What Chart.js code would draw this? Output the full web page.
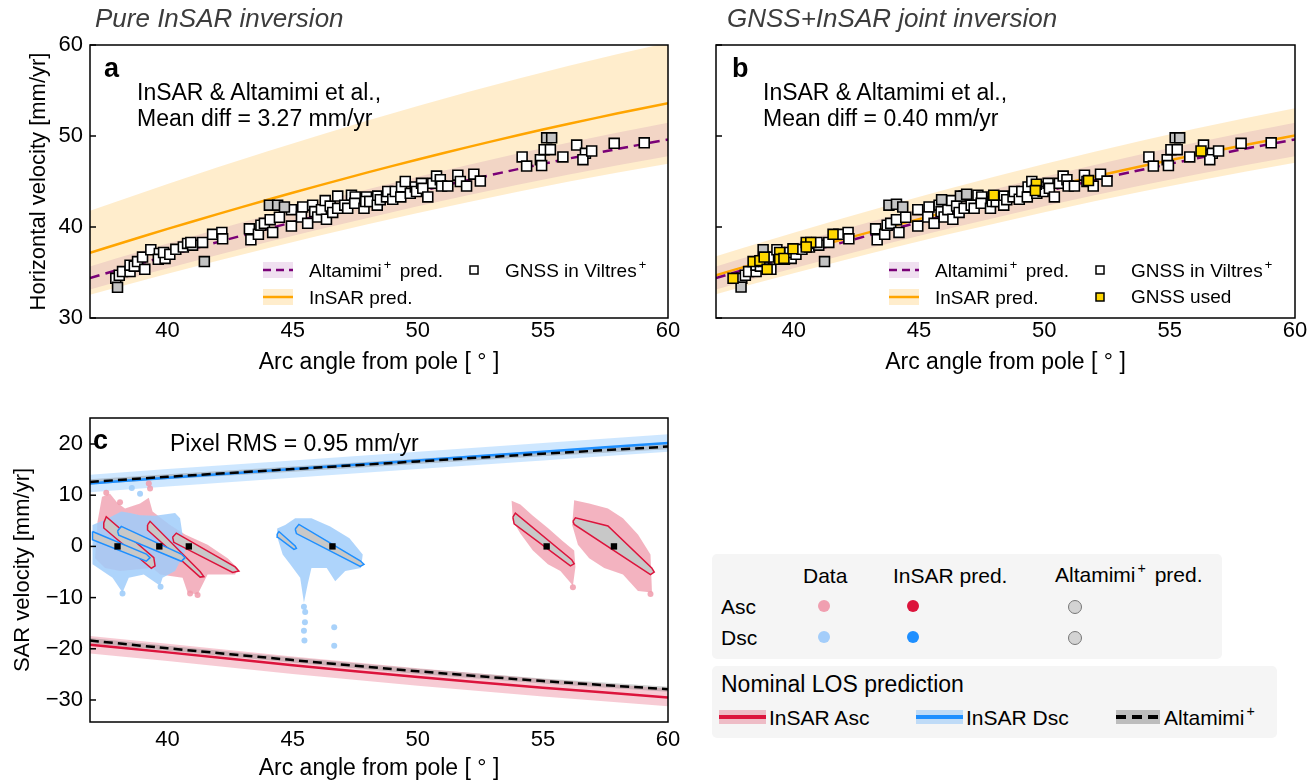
<!DOCTYPE html>
<html><head><meta charset="utf-8">
<script src="https://cdn.jsdelivr.net/npm/chart.js@4.4.0/dist/chart.umd.min.js"></script>
<style>
body{margin:0;background:#fff;width:1315px;height:782px;overflow:hidden;position:relative;font-family:"Liberation Sans",Arial,Helvetica,sans-serif;color:#000}
canvas{position:absolute}
.t{position:absolute;white-space:nowrap;line-height:1;transform:translateY(-50%)}
sup{font-size:0.68em;vertical-align:0.6em;line-height:0;margin-left:2px;margin-right:3px}
.box{position:absolute;background:#f5f5f5;border-radius:5px}
.dot{position:absolute;width:12px;height:12px;border-radius:50%;transform:translate(-50%,-50%)}
.sw{position:absolute}
</style></head><body>
<canvas id="ca" width="690" height="390" style="left:0;top:0"></canvas>
<canvas id="cb" width="625" height="390" style="left:690px;top:0"></canvas>
<canvas id="cc" width="690" height="392" style="left:0;top:390px"></canvas>

<div class="t" style="left:95px;top:18px;font-size:26px;font-style:italic;color:#3c3c3c">Pure InSAR inversion</div>
<div class="t" style="left:727px;top:18px;font-size:26px;font-style:italic;color:#3c3c3c">GNSS+InSAR joint inversion</div>

<div class="t" style="left:104px;top:68px;font-size:27px;font-weight:bold">a</div>
<div class="t" style="left:137px;top:92px;font-size:23px">InSAR &amp; Altamimi et al.,</div>
<div class="t" style="left:137px;top:118px;font-size:23px">Mean diff = 3.27 mm/yr</div>
<div class="t" style="left:309px;top:270px;font-size:19px">Altamimi<sup>+</sup> pred.</div>
<div class="t" style="left:309px;top:297px;font-size:19px">InSAR pred.</div>
<div class="t" style="left:505px;top:270px;font-size:19px">GNSS in Viltres<sup>+</sup></div>

<div class="t" style="left:732px;top:68px;font-size:27px;font-weight:bold">b</div>
<div class="t" style="left:763px;top:92px;font-size:23px">InSAR &amp; Altamimi et al.,</div>
<div class="t" style="left:763px;top:118px;font-size:23px">Mean diff = 0.40 mm/yr</div>
<div class="t" style="left:935px;top:270px;font-size:19px">Altamimi<sup>+</sup> pred.</div>
<div class="t" style="left:935px;top:297px;font-size:19px">InSAR pred.</div>
<div class="t" style="left:1131px;top:270px;font-size:19px">GNSS in Viltres<sup>+</sup></div>
<div class="t" style="left:1131px;top:296px;font-size:19px">GNSS used</div>

<div class="t" style="left:93px;top:440px;font-size:27px;font-weight:bold">c</div>
<div class="t" style="left:170px;top:443px;font-size:23px">Pixel RMS = 0.95 mm/yr</div>

<div class="box" style="left:712px;top:554px;width:510px;height:105px"></div>
<div class="t" style="left:803px;top:575px;font-size:21px">Data</div>
<div class="t" style="left:893px;top:575px;font-size:21px">InSAR pred.</div>
<div class="t" style="left:1055px;top:574px;font-size:21px">Altamimi<sup>+</sup> pred.</div>
<div class="t" style="left:721px;top:606px;font-size:21px">Asc</div>
<div class="t" style="left:721px;top:637px;font-size:21px">Dsc</div>
<div class="dot" style="left:824px;top:606px;background:#f09fb0"></div>
<div class="dot" style="left:913px;top:606px;background:#dc143c"></div>
<div class="dot" style="left:1075px;top:607px;background:#d3d3d3;border:1px solid #777"></div>
<div class="dot" style="left:824px;top:637px;background:#a3cdfa"></div>
<div class="dot" style="left:913px;top:637px;background:#1e8fff"></div>
<div class="dot" style="left:1075px;top:638px;background:#d3d3d3;border:1px solid #777"></div>

<div class="box" style="left:712px;top:666px;width:565px;height:72px"></div>
<div class="t" style="left:721px;top:684px;font-size:23px">Nominal LOS prediction</div>
<div class="sw" style="left:719px;top:710px;width:47px;height:14px;background:rgba(220,20,60,0.25)"></div>
<div class="sw" style="left:719px;top:715px;width:47px;height:4px;background:#dc143c"></div>
<div class="t" style="left:769px;top:717px;font-size:21px">InSAR Asc</div>
<div class="sw" style="left:916px;top:710px;width:47px;height:14px;background:rgba(30,144,255,0.25)"></div>
<div class="sw" style="left:916px;top:715px;width:47px;height:4px;background:#1e8fff"></div>
<div class="t" style="left:966px;top:717px;font-size:21px">InSAR Dsc</div>
<div class="sw" style="left:1116px;top:710px;width:44px;height:14px;background:#bdbdbd"></div>
<div class="sw" style="left:1116px;top:715px;width:44px;height:4px;background:repeating-linear-gradient(90deg,#000 0 10px,transparent 10px 16px)"></div>
<div class="t" style="left:1164px;top:717px;font-size:21px">Altamimi<sup>+</sup></div>

<script>
// ---------- data: panels a & b (horizontal velocity, mm/yr) ----------
const angleGrid      = [36.9, 38, 40, 42, 44, 46, 48, 50, 52, 54, 56, 58, 60];
const altamimiPred   = [34.40, 35.28, 36.83, 38.34, 39.81, 41.22, 42.58, 43.89, 45.15, 46.36, 47.50, 48.59, 49.62];
const altamimiHi     = [35.67, 36.59, 38.19, 39.76, 41.28, 42.75, 44.16, 45.51, 46.82, 48.08, 49.26, 50.39, 51.46];
const altamimiLo     = [33.13, 33.98, 35.47, 36.92, 38.34, 39.69, 41.00, 42.27, 43.48, 44.64, 45.74, 46.79, 47.78];
const insarPredA     = [37.17, 38.11, 39.79, 41.42, 43.00, 44.52, 46.00, 47.42, 48.78, 50.08, 51.32, 52.49, 53.61];
const insarHiA       = [41.78, 42.84, 44.72, 46.56, 48.33, 50.04, 51.70, 53.30, 54.83, 56.29, 57.68, 59.00, 60.26];
const insarLoA       = [32.56, 33.38, 34.86, 36.28, 37.67, 39.00, 40.30, 41.54, 42.73, 43.87, 44.96, 45.98, 46.96];
const insarPredB     = [34.70, 35.59, 37.15, 38.67, 40.15, 41.58, 42.95, 44.27, 45.55, 46.76, 47.92, 49.01, 50.06];
const insarHiB       = [36.78, 37.73, 39.38, 40.99, 42.56, 44.07, 45.53, 46.93, 48.28, 49.57, 50.80, 51.95, 53.06];
const insarLoB       = [32.62, 33.45, 34.92, 36.35, 37.74, 39.09, 40.37, 41.61, 42.82, 43.95, 45.04, 46.07, 47.06];

const gnssViltres = [[37.93,34.36],[38.07,34.7],[38.2,35.1],[38.5,35.1],[38.5,35.8],[38.67,35.7],[38.8,36.2],[39.09,35.35],[39.0,36.7],[39.33,37.5],[39.67,37.1],[39.63,36.45],[39.9,36.55],[39.84,37.2],[40.09,37.0],[40.33,37.55],[40.63,37.8],[40.8,38.2],[41.0,38.0],[40.93,38.3],[41.4,38.3],[41.8,39.2],[42.17,39.4],[42.2,38.7],[43.27,39.8],[43.33,38.6],[43.63,39.2],[43.73,40.2],[43.87,40.4],[44.1,40.8],[44.2,39.4],[44.47,41.07],[44.95,41.9],[44.95,40.1],[45.4,42.2],[45.35,41.1],[45.6,40.4],[45.8,42.4],[45.88,41.7],[46.0,41.1],[46.15,41.9],[46.35,40.85],[46.3,42.9],[46.5,42.3],[46.6,41.6],[46.8,43.4],[46.8,42.05],[47.08,42.4],[47.2,42.05],[47.35,43.5],[47.5,43.3],[47.48,42.6],[47.85,42.05],[47.95,43.3],[47.92,42.8],[48.08,42.8],[48.4,43.4],[48.38,42.4],[48.5,43.0],[48.75,43.3],[48.8,43.9],[49.0,43.05],[49.1,43.9],[49.32,43.3],[49.35,44.4],[49.5,45.0],[49.7,43.7],[49.9,44.4],[49.95,43.9],[50.15,44.8],[50.2,44.25],[50.4,43.3],[50.6,44.8],[50.75,45.6],[50.9,45.2],[50.95,44.5],[51.2,44.5],[51.6,45.7],[51.7,45.0],[51.95,44.5],[52.24,45.8],[52.5,45.05],[54.17,47.7],[54.35,46.7],[54.9,47.4],[54.95,46.75],[55.05,48.5],[55.3,48.5],[55.8,47.7],[56.35,49.0],[56.7,48.1],[56.6,47.4],[56.95,48.35],[57.85,49.2],[59.05,49.25]];
const gnssExcludedA = [[38.0,33.37],[41.47,36.2],[44.07,42.4],[44.4,42.4],[44.67,42.2],[55.15,49.8],[55.35,49.8]];
const gnssExcludedB = [[37.9,33.4],[38.78,37.5],[41.23,36.2],[43.8,42.4],[44.1,42.5],[44.35,42.2],[45.9,43.0],[46.65,43.4],[46.9,43.6],[55.22,49.8],[55.4,49.8]];
const gnssUsedB = [[37.58,34.36],[38.38,36.2],[38.65,36.3],[38.82,36.7],[38.94,35.35],[39.44,37.2],[39.44,36.45],[39.61,36.55],[39.97,37.6],[40.5,38.3],[40.68,38.3],[40.5,37.8],[41.57,39.2],[47.98,43.5],[49.68,44.7],[49.64,44.0],[51.76,45.1],[56.25,48.35]];

// ---------- data: panel c (LOS velocity, mm/yr) ----------
const losGrid   = [36.9, 40, 45, 50, 55, 60];
const insarDsc  = [12.3, 13.4, 15.1, 16.8, 18.5, 20.2];
const insarDscHi= [14.0, 15.1, 16.8, 18.5, 20.2, 21.9];
const insarDscLo= [10.6, 11.7, 13.4, 15.1, 16.8, 18.5];
const altDsc    = [12.6, 13.6, 15.1, 16.6, 18.1, 19.5];
const altDscHi  = [13.1, 14.1, 15.6, 17.1, 18.6, 20.0];
const altDscLo  = [12.1, 13.1, 14.6, 16.1, 17.6, 19.0];
const insarAsc  = [-19.2, -20.7, -23.2, -25.5, -27.6, -29.5];
const insarAscHi= [-17.5, -19.0, -21.5, -23.8, -25.9, -27.8];
const insarAscLo= [-20.9, -22.4, -24.9, -27.2, -29.3, -31.2];
const altAsc    = [-18.4, -19.9, -22.2, -24.4, -26.3, -27.9];
const altAscHi  = [-17.9, -19.4, -21.7, -23.9, -25.8, -27.4];
const altAscLo  = [-18.9, -20.4, -22.7, -24.9, -26.8, -28.4];

// observed pixel clouds (outlines)
const ascCloud1 = [[37.38,9.7],[37.7,10.3],[38.0,8.5],[38.3,7.4],[38.9,8.4],[39.25,9.5],[39.4,6.8],[40.1,4.2],[40.7,2.3],[41.6,0.3],[42.4,-2.3],[42.8,-4.2],[42.7,-5.5],[41.6,-5.5],[41.2,-9.4],[40.8,-9.0],[40.6,-6.1],[39.7,-5.5],[39.4,-4.2],[38.1,-4.8],[37.5,-4.2],[37.1,-2.3],[37.2,4.8]];
const ascCloud2 = [[53.75,8.9],[54.1,8.2],[54.6,6.0],[55.2,3.6],[55.8,1.0],[56.25,-0.8],[56.3,-4.0],[56.2,-7.7],[56.0,-6.5],[55.7,-4.8],[55.2,-3.5],[54.6,-0.8],[54.1,2.5],[53.8,5.0]];
const ascCloud3 = [[56.25,9.0],[56.85,8.4],[57.6,7.4],[58.2,5.5],[58.8,2.3],[59.3,-1.6],[59.36,-9.0],[58.8,-8.7],[58.2,-5.5],[57.45,-4.2],[56.85,-2.3],[56.4,0.3],[56.17,4.2]];
const dscCloud1 = [[37.0,4.2],[37.5,5.2],[38.15,6.8],[38.5,6.5],[38.9,6.1],[39.5,6.0],[40.3,6.5],[40.5,5.5],[40.7,-1.0],[40.3,-4.8],[39.8,-6.1],[39.7,-7.7],[39.05,-5.5],[38.45,-6.1],[38.2,-9.0],[37.8,-6.1],[37.0,-3.5]];
const dscCloud2 = [[44.38,3.5],[44.7,4.2],[45.1,5.5],[45.75,5.5],[46.5,3.9],[47.27,1.6],[47.8,-1.6],[47.73,-4.2],[47.1,-4.8],[46.7,-6.8],[46.36,-4.2],[45.75,-4.2],[45.6,-7.4],[45.45,-11.0],[45.3,-6.1],[44.9,-3.5],[44.6,-1.6],[44.4,1.6]];
const ascStray = [[39.3,11.3],[39.25,12.3],[38.1,8.6],[37.55,10.5],[41.2,-9.5],[56.2,-8.0],[59.3,-9.3],[40.9,-9.2]];
const dscStray = [[45.49,-14.8],[45.45,-16.5],[45.47,-18.4],[46.66,-15.8],[46.66,-19.4],[38.57,11.4],[38.9,10.3],[38.2,-9.2],[39.72,-7.9],[45.45,-11.8],[45.5,-12.8]];
// InSAR predicted LOS per track (outlines)
const ascPred = [
  [[37.45,4.6],[37.55,5.8],[39.45,-2.2],[39.5,-3.8],[39.35,-4.3],[37.45,3.6]],
  [[39.2,4.2],[39.3,4.9],[41.3,-4.9],[41.45,-5.9],[41.3,-6.0],[39.2,3.2]],
  [[40.2,1.8],[40.35,2.6],[42.7,-4.0],[42.85,-4.8],[42.6,-5.1],[40.25,0.8]],
  [[53.8,5.7],[53.9,6.5],[56.15,-2.6],[56.25,-3.4],[56.1,-3.8],[53.85,4.4]],
  [[56.2,4.9],[56.3,5.6],[57.6,4.0],[59.35,-4.2],[59.45,-5.0],[59.3,-5.5],[56.25,4.3]]
];
const dscPred = [
  [[37.0,2.9],[39.15,-1.5],[39.3,-2.2],[39.15,-2.9],[37.0,1.3]],
  [[38.0,3.0],[38.15,3.9],[40.55,-1.5],[40.7,-2.2],[40.55,-2.9],[38.05,2.2]],
  [[44.38,2.4],[44.45,2.9],[45.1,0.1],[45.15,-0.4],[45.05,-0.6],[44.4,1.8]],
  [[45.1,3.4],[45.25,4.3],[47.7,-2.8],[47.85,-3.5],[47.7,-3.9],[45.15,2.5]]
];
const refAngle = [38.0, 39.67, 40.85, 46.59, 55.15, 57.84];
const refVel   = [0, 0, 0, 0, 0, 0];

// ---------- tick labels ----------
const xTicks  = [40, 45, 50, 55, 60];
const yTicksH = [30, 40, 50, 60];
const yTicksC = [-30, -20, -10, 0, 10, 20];

// ---------- helpers ----------
const FONT = '"Liberation Sans", Arial, Helvetica, sans-serif';
Chart.defaults.font.family = FONT;
Chart.defaults.color = '#000';
const pts  = (xs, ys) => xs.map((x, i) => ({x, y: ys[i]}));
const pairs = arr => arr.map(([x, y]) => ({x, y}));
const poly = arr => pairs(arr.concat([arr[0]]));
const band = (xs, lo, hi) => { const p = xs.map((x, i) => ({x, y: hi[i]})); for (let i = xs.length - 1; i >= 0; i--) p.push({x: xs[i], y: lo[i]}); p.push(p[0]); return p; };
const lineDS = (data, color, w, dash, order) => ({data, showLine: true, borderColor: color, borderWidth: w, borderDash: dash || [], pointRadius: 0, fill: false, order, tension: 0.2});
const shapeDS = (data, fillC, order, stroke, sw) => ({data, showLine: true, fill: 'shape', backgroundColor: fillC, borderColor: stroke || 'rgba(0,0,0,0)', borderWidth: sw || 0.01, pointRadius: 0, order, tension: 0});
const markDS = (data, bg, order, r, style, bw) => ({data, showLine: false, pointStyle: style || 'rect', pointRadius: r, pointBackgroundColor: bg, backgroundColor: bg, pointBorderColor: '#000', borderColor: '#000', pointBorderWidth: bw === undefined ? 1.6 : bw, borderWidth: bw === undefined ? 1.6 : bw, order});

const framePlugin = {
  id: 'frame',
  afterDatasetsDraw(chart) {
    const {ctx, chartArea: a, scales} = chart;
    ctx.save();
    ctx.strokeStyle = '#000'; ctx.lineWidth = 1.5;
    ctx.strokeRect(a.left, a.top, a.right - a.left, a.bottom - a.top);
    const ys = scales.y;
    ys.ticks.forEach(t => { const p = ys.getPixelForValue(t.value); ctx.beginPath(); ctx.moveTo(a.left, p); ctx.lineTo(a.left + 6, p); ctx.stroke(); });
    ctx.restore();
  }
};
const legendSamples = (withUsed) => ({
  id: 'legendSamples',
  afterDraw(chart) {
    const {ctx, chartArea: a} = chart;
    const x0 = a.left + 173, x1 = a.left + 203;
    ctx.save();
    ctx.fillStyle = 'rgba(128,0,128,0.12)'; ctx.fillRect(x0, 262, x1 - x0, 16);
    ctx.strokeStyle = '#7a0177'; ctx.lineWidth = 2.5; ctx.setLineDash([8, 5]);
    ctx.beginPath(); ctx.moveTo(x0, 270); ctx.lineTo(x1, 270); ctx.stroke();
    ctx.setLineDash([]);
    ctx.fillStyle = 'rgba(255,165,0,0.2)'; ctx.fillRect(x0, 289, x1 - x0, 16);
    ctx.strokeStyle = '#ffa500'; ctx.lineWidth = 2.5;
    ctx.beginPath(); ctx.moveTo(x0, 297); ctx.lineTo(x1, 297); ctx.stroke();
    const sx = a.left + 384;
    ctx.lineWidth = 1.5; ctx.strokeStyle = '#000';
    ctx.fillStyle = '#fff'; ctx.fillRect(sx - 4, 266, 8, 8); ctx.strokeRect(sx - 4, 266, 8, 8);
    if (withUsed) { ctx.fillStyle = '#ffd700'; ctx.fillRect(sx - 4, 293, 8, 8); ctx.strokeRect(sx - 4, 293, 8, 8); }
    ctx.restore();
  }
});

const xScale = (h, tickPad, titlePad) => ({
  type: 'linear', min: 36.9, max: 60,
  afterBuildTicks: s => { s.ticks = xTicks.map(v => ({value: v})); },
  afterFit: s => { s.height = h; },
  grid: {display: false, drawTicks: false}, border: {display: false},
  ticks: {font: {size: 22}, color: '#000', padding: tickPad, maxRotation: 0},
  title: {display: true, text: 'Arc angle from pole [ ° ]', font: {size: 23}, color: '#000', padding: {top: 0, bottom: titlePad}}
});
const yScale = (min, max, ticks, w, title, titlePad, showLabels) => ({
  type: 'linear', min, max,
  afterBuildTicks: s => { s.ticks = ticks.map(v => ({value: v})); },
  afterFit: s => { s.width = w; },
  grid: {display: false, drawTicks: false}, border: {display: false},
  ticks: {display: showLabels, font: {size: 22}, color: '#000', padding: 7, callback: v => String(v).replace('-', '\u2212')},
  title: {display: !!title, text: title || '', font: {size: 22}, color: '#000', padding: {top: titlePad, bottom: 0}}
});
const baseOpts = (scales, pad) => ({
  responsive: false, animation: false, events: [],
  layout: {padding: pad},
  plugins: {legend: {display: false}, tooltip: {enabled: false}},
  scales
});

// ---------- panel a ----------
new Chart(document.getElementById('ca'), {
  type: 'scatter',
  data: {datasets: [
    markDS(pairs(gnssExcludedA), '#c4c4c4', 0, 7),
    markDS(pairs(gnssViltres), '#ffffff', 1, 7),
    lineDS(pts(angleGrid, altamimiPred), '#7a0177', 2.5, [10, 6], 2),
    lineDS(pts(angleGrid, insarPredA), '#ffa500', 2.5, [], 3),
    shapeDS(band(angleGrid, altamimiLo, altamimiHi), 'rgba(128,0,128,0.1)', 4),
    shapeDS(band(angleGrid, insarLoA, insarHiA), 'rgba(255,165,0,0.2)', 5)
  ]},
  options: baseOpts({x: xScale(72, 0, 14), y: yScale(30, 60, yTicksH, 90, 'Horizontal velocity [mm/yr]', 26, true)}, {left: 0, right: 22, top: 45, bottom: 0}),
  plugins: [framePlugin, legendSamples(false)]
});

// ---------- panel b ----------
new Chart(document.getElementById('cb'), {
  type: 'scatter',
  data: {datasets: [
    markDS(pairs(gnssUsedB), '#ffd700', -1, 7),
    markDS(pairs(gnssExcludedB), '#c4c4c4', 0, 7),
    markDS(pairs(gnssViltres), '#ffffff', 1, 7),
    lineDS(pts(angleGrid, altamimiPred), '#7a0177', 2.5, [10, 6], 2),
    lineDS(pts(angleGrid, insarPredB), '#ffa500', 2.5, [], 3),
    shapeDS(band(angleGrid, altamimiLo, altamimiHi), 'rgba(128,0,128,0.1)', 4),
    shapeDS(band(angleGrid, insarLoB, insarHiB), 'rgba(255,165,0,0.2)', 5)
  ]},
  options: baseOpts({x: xScale(72, 0, 14), y: yScale(30, 60, yTicksH, 26, '', 0, false)}, {left: 0, right: 20, top: 45, bottom: 0}),
  plugins: [framePlugin, legendSamples(true)]
});

// ---------- panel c ----------
const cSets = [
  markDS(pts(refAngle, refVel), '#000000', 0, 4.5, 'rect', 0)
];
dscPred.forEach(p => cSets.push(shapeDS(poly(p), '#c8c8c8', 1, '#1e8fff', 1.5)));
ascPred.forEach(p => cSets.push(shapeDS(poly(p), '#c8c8c8', 2, '#dc143c', 1.5)));
cSets.push(markDS(pairs(dscStray), 'rgba(160,205,250,0.9)', 3, 3, 'circle', 0));
cSets.push(shapeDS(poly(dscCloud1), 'rgba(160,205,250,0.85)', 3));
cSets.push(shapeDS(poly(dscCloud2), 'rgba(160,205,250,0.85)', 3));
cSets.push(markDS(pairs(ascStray), 'rgba(240,155,172,0.85)', 4, 3, 'circle', 0));
cSets.push(shapeDS(poly(ascCloud1), 'rgba(240,160,176,0.8)', 4));
cSets.push(shapeDS(poly(ascCloud2), 'rgba(240,160,176,0.8)', 4));
cSets.push(shapeDS(poly(ascCloud3), 'rgba(240,160,176,0.8)', 4));
cSets.push(lineDS(pts(losGrid, altDsc), '#000', 2.5, [9, 5], 5));
cSets.push(lineDS(pts(losGrid, altAsc), '#000', 2.5, [9, 5], 5));
cSets.push(lineDS(pts(losGrid, insarDsc), '#1e8fff', 2.5, [], 6));
cSets.push(lineDS(pts(losGrid, insarAsc), '#dc143c', 2.5, [], 6));
cSets.push(shapeDS(band(losGrid, altDscLo, altDscHi), 'rgba(120,120,120,0.35)', 7));
cSets.push(shapeDS(band(losGrid, altAscLo, altAscHi), 'rgba(120,120,120,0.35)', 7));
cSets.push(shapeDS(band(losGrid, insarDscLo, insarDscHi), 'rgba(30,144,255,0.22)', 8));
cSets.push(shapeDS(band(losGrid, insarAscLo, insarAscHi), 'rgba(220,20,60,0.22)', 8));

new Chart(document.getElementById('cc'), {
  type: 'scatter',
  data: {datasets: cSets},
  options: baseOpts({x: xScale(60, 5, 0), y: yScale(-34.3, 25.08, yTicksC, 90, 'SAR velocity [mm/yr]', 10, true)}, {left: 0, right: 22, top: 28, bottom: 0}),
  plugins: [framePlugin]
});
</script>
</body></html>
